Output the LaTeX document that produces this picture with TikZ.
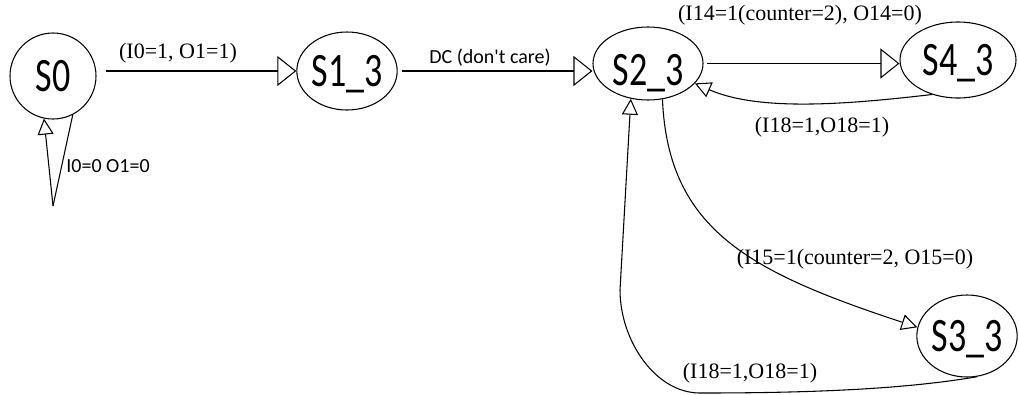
\documentclass[tikz,border=0pt]{standalone}
\usepackage{fontspec}
\setmainfont{Liberation Serif}
\newfontfamily\statefont[FakeStretch=0.75]{Carlito}
\newfontfamily\notefont{Carlito}
\usetikzlibrary{arrows.meta,shapes.geometric}

\begin{document}
\begin{tikzpicture}[x=0.75pt, y=-0.75pt,
  statenode/.style={draw, ellipse, line width=0.8pt, inner sep=0pt, text height=23.2pt, text depth=0pt,
    font=\statefont\fontsize{36}{36}\selectfont},
  edgelabel/.style={font=\fontsize{16.5}{18}\selectfont},
  notelabel/.style={font=\notefont\fontsize{15}{17}\selectfont},
  bigarrow/.style={-{Triangle[open, length=14.25pt, width=22.5pt]}, line width=0.8pt},
  smallarrow/.style={-{Triangle[open, length=12pt, width=12pt]}, line width=0.8pt}]
\useasboundingbox (0,0) rectangle (1019,394);

% states
\node[statenode, circle, minimum size=64.5pt] (s0) at (53,76) {S0};
\node[statenode, minimum width=73.5pt, minimum height=58.5pt] (s1) at (347,71) {S1\_3};
\node[statenode, minimum width=82.5pt, minimum height=54.75pt] (s2) at (648,63.5) {\raisebox{-5pt}{S2\_3}};
\node[statenode, minimum width=87pt, minimum height=57pt] (s4) at (958,60) {S4\_3};
\node[statenode, minimum width=75pt, minimum height=61.5pt] (s3) at (967,336) {S3\_3};

% transitions
\coordinate (loopend) at (53,206);
\draw[line width=0.8pt] (s0.-63) -- (loopend);
\draw[smallarrow] (loopend) -- (s0.-102);
\draw[bigarrow, shorten <=6.75pt] (s0.east |- s1.west) -- (s1.west);
\draw[bigarrow, shorten <=3pt] (s1.east) -- (s1.east -| s2.west);
\draw[bigarrow, shorten <=2.25pt] (s2.east) -- (s2.east -| s4.west);
\draw[smallarrow] (s4.233) .. controls (850,104) and (760,112) .. (s2.-23);
\draw[smallarrow] (s2.-68) .. controls (668,230) and (750,272) .. (s3.170);
\draw[smallarrow] (s3.-76) .. controls (900,390) and (800,393) .. (700,393)
  .. controls (655,393) and (620,340) .. (620,290) -- (s2.-116);

% labels
\node[edgelabel] (l01) at (178,53) {(I0=1, O1=1)};
\node[notelabel] (l00) at (108,166) {I0=0 O1=0};
\node[notelabel] (l12) at (490,58) {DC (don't care)};
\node[edgelabel] (l24) at (800,15) {(I14=1(counter=2), O14=0)};
\node[edgelabel] (l42) at (822,127) {(I18=1,O18=1)};
\node[edgelabel] (l23) at (855,259) {(I15=1(counter=2, O15=0)};
\node[edgelabel] (l32) at (750,373) {(I18=1,O18=1)};
\end{tikzpicture}
\end{document}
